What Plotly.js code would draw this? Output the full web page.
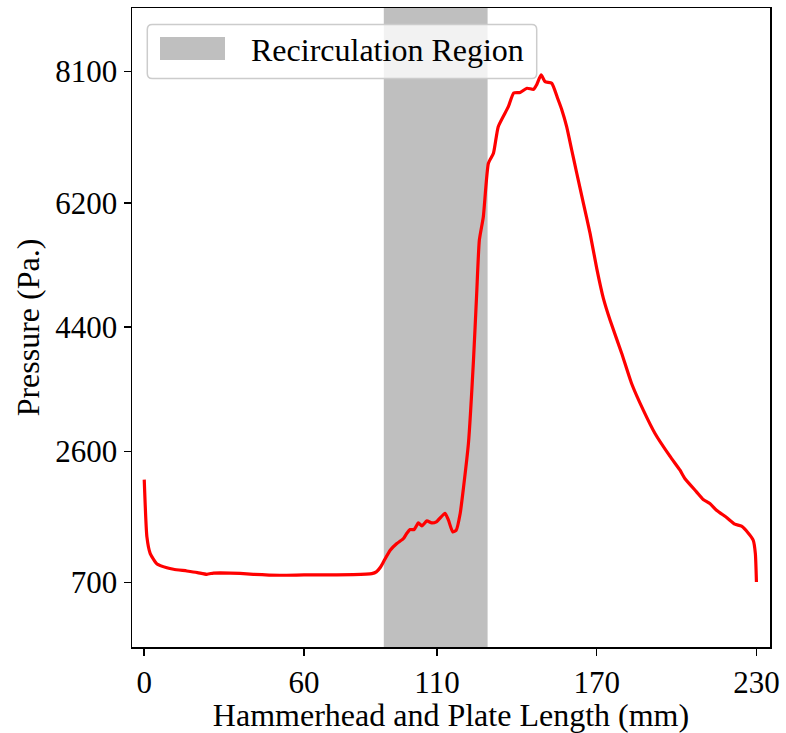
<!DOCTYPE html>
<html>
<head>
<meta charset="utf-8">
<script src="https://cdn.plot.ly/plotly-3.0.1.min.js"></script>
<style>
  html, body { margin: 0; padding: 0; background: #ffffff; }
  #chart { width: 786px; height: 733px; }
</style>
</head>
<body>
<div id="chart"></div>
<script>
// Pressure distribution along the hammerhead and plate (mm vs Pa)
const lengthMm = [
  0, 1.0, 2.25, 4.8, 8.5, 11, 16, 20, 23.5, 26, 28.5, 36, 41, 51, 60, 66, 78.6, 85.5, 87.2,
  88.8, 90.3, 92.4, 94.9, 97.4, 98.6, 99.9, 101.4, 103.0, 104.3, 106.2, 108.0, 109.9, 113.0,
  114.3, 115.9, 117.2, 118.7, 119.9, 121.8, 123.7, 124.9, 125.9, 127.4, 129.3, 131.2, 133.0,
  136.8, 138.8, 141.2, 143.8, 146.3, 147.4, 149.1, 150.6, 153.1, 155.3, 156.9, 158.7, 160.6,
  162.5, 165.0, 167.5, 170.0, 172.5, 175.0, 179.4, 183.1, 187.5, 191.9, 197.5, 201.3, 203.1,
  207.5, 210.0, 212.5, 215.0, 218.8, 221.9, 224.4, 226.9, 228.8, 229.6, 230.0
];
const pressurePa = [
  2190, 1361, 1120, 970, 915, 893, 868, 845, 820, 838, 840, 832, 820, 806, 810, 810, 816, 830, 855,
  925, 1030, 1168, 1265, 1338, 1410, 1468, 1468, 1564, 1520, 1593, 1564, 1584, 1704,
  1603, 1433, 1458, 1700, 2060, 2714, 3921, 4888, 5660, 5998, 6771, 6916, 7302,
  7591, 7790, 7797, 7858, 7843, 7906, 8051, 7954, 7930, 7713, 7544, 7302, 6964,
  6627, 6192, 5757, 5250, 4815, 4501, 4018, 3583, 3197, 2859, 2530, 2327, 2207,
  2013, 1903, 1845, 1748, 1642, 1545, 1516, 1419, 1313, 1120, 709
];

// Recirculation zone bounds (mm) and legend text
const regionBounds = [90, 129];
const regionLabel = 'Recirculation Region';

// Axis tick values
const xTicks = [0, 60, 110, 170, 230];
const yTicks = [700, 2600, 4400, 6200, 8100];

const FONT = '"Liberation Serif", "Times New Roman", Times, serif';
const TICK_SIZE = 31, TITLE_SIZE = 32;
const W = 786, H = 733;
const M = { l: 132, r: 16, t: 8, b: 86 };
const plotW = W - M.l - M.r, plotH = H - M.t - M.b;
const px2x = p => (p - M.l) / plotW;
const px2y = p => (H - M.b - p) / plotH;

// Legend frame drawn as a rounded rectangle in paper space
function roundedRect(x0, y0, x1, y1, r) {
  const rx = r / plotW, ry = r / plotH;
  const X0 = px2x(x0), X1 = px2x(x1), Y0 = px2y(y1), Y1 = px2y(y0);
  return `M${X0 + rx},${Y0} L${X1 - rx},${Y0} Q${X1},${Y0} ${X1},${Y0 + ry} ` +
         `L${X1},${Y1 - ry} Q${X1},${Y1} ${X1 - rx},${Y1} L${X0 + rx},${Y1} ` +
         `Q${X0},${Y1} ${X0},${Y1 - ry} L${X0},${Y0 + ry} Q${X0},${Y0} ${X0 + rx},${Y0} Z`;
}

const trace = {
  x: lengthMm,
  y: pressurePa,
  type: 'scatter',
  mode: 'lines',
  line: { color: '#ff0000', width: 3.2, shape: 'spline', smoothing: 0.5 },
  showlegend: false,
  hoverinfo: 'x+y'
};

const axisCommon = {
  ticks: 'outside',
  ticklen: 7,
  tickwidth: 1.5,
  tickcolor: '#000000',
  showline: true,
  linecolor: '#000000',
  linewidth: 1.5,
  mirror: true,
  showgrid: false,
  zeroline: false,
  tickfont: { family: FONT, size: TICK_SIZE, color: '#000000' }
};

const layout = {
  width: W,
  height: H,
  margin: M,
  paper_bgcolor: '#ffffff',
  plot_bgcolor: '#ffffff',
  showlegend: false,
  font: { family: FONT, size: TITLE_SIZE, color: '#000000' },
  xaxis: Object.assign({}, axisCommon, {
    range: [-4.6, 235.1],
    tickvals: xTicks,
    ticktext: xTicks.map(String),
    title: { text: 'Hammerhead and Plate Length (mm)', font: { family: FONT, size: TITLE_SIZE }, standoff: 4 }
  }),
  yaxis: Object.assign({}, axisCommon, {
    range: [-233, 9020],
    tickvals: yTicks,
    ticktext: yTicks.map(String),
    title: { text: 'Pressure (Pa.)', font: { family: FONT, size: TITLE_SIZE }, standoff: 6 }
  }),
  shapes: [
    {
      type: 'rect', layer: 'below',
      xref: 'x', yref: 'paper',
      x0: regionBounds[0], x1: regionBounds[1], y0: 0, y1: 1,
      fillcolor: '#bfbfbf', line: { width: 0 }
    },
    {
      type: 'path', layer: 'above',
      xref: 'paper', yref: 'paper',
      path: roundedRect(147.3, 24.5, 536.7, 78.5, 5),
      fillcolor: 'rgba(255,255,255,0.8)',
      line: { color: '#cccccc', width: 1.5 }
    },
    {
      type: 'rect', layer: 'above',
      xref: 'paper', yref: 'paper',
      x0: px2x(160), x1: px2x(225), y0: px2y(60), y1: px2y(37),
      fillcolor: '#bfbfbf', line: { width: 0 }
    }
  ],
  annotations: [
    {
      xref: 'paper', yref: 'paper',
      x: px2x(249), y: px2y(50),
      xanchor: 'left', yanchor: 'middle',
      text: regionLabel, showarrow: false,
      font: { family: FONT, size: TITLE_SIZE, color: '#000000' }
    }
  ]
};

Plotly.newPlot('chart', [trace], layout, { displayModeBar: false, staticPlot: true });
</script>
</body>
</html>
